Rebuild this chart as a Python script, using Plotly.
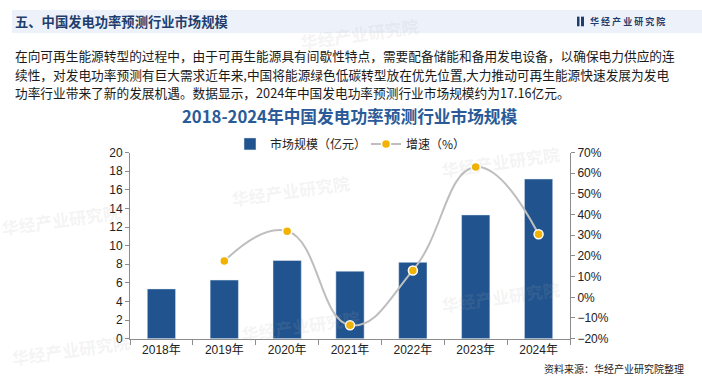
import plotly.graph_objects as go

W, H = 702, 390

years = ["2018年", "2019年", "2020年", "2021年", "2022年", "2023年", "2024年"]
market_size = [5.35, 6.3, 8.4, 7.25, 8.2, 13.3, 17.16]
growth_years = ["2019年", "2020年", "2021年", "2022年", "2023年", "2024年"]
growth_rate = [17.5, 32.0, -13.5, 13.0, 63.0, 30.5]

header = "五、中国发电功率预测行业市场规模"
para_lines = [
    "在向可再生能源转型的过程中，由于可再生能源具有间歇性特点，需要配备储能和备用发电设备，以确保电力供应的连",
    "续性，对发电功率预测有巨大需求近年来,中国将能源绿色低碳转型放在优先位置,大力推动可再生能源快速发展为发电",
    "功率行业带来了新的发展机遇。数据显示，2024年中国发电功率预测行业市场规模约为17.16亿元。",
]
chart_title = "2018-2024年中国发电功率预测行业市场规模"
source = "资料来源：华经产业研究院整理"

FONT = "Liberation Sans, Noto Sans CJK SC, sans-serif"
CJK = "Noto Sans CJK SC, sans-serif"


def px(x):
    return x / W


def py(y):
    return 1 - y / H


fig = go.Figure()
fig.add_trace(go.Bar(
    x=years, y=market_size, name="市场规模（亿元）",
    marker=dict(color="#21548F"), width=0.45, yaxis="y",
))
fig.add_trace(go.Scatter(
    x=growth_years, y=growth_rate, name="增速（%）", yaxis="y2",
    mode="lines+markers",
    line=dict(color="#BEBEBE", width=2, shape="spline", smoothing=1.3),
    marker=dict(color="#F2B200", size=9, line=dict(color="white", width=1.5)),
))

annotations = []
# faint watermarks
for (wx, wy) in [(290, 190), (500, 160), (300, 330), (60, 220), (70, 355), (360, 28), (500, 300)]:
    annotations.append(dict(text="<b>华经产业研究院</b>", x=px(wx), y=py(wy), xref="paper", yref="paper",
                            xanchor="center", yanchor="middle", showarrow=False, textangle=-8,
                            font=dict(family=CJK, size=17, color="rgba(170,170,170,0.15)")))
# header
annotations.append(dict(text="<b>" + header + "</b>", x=px(13), y=py(15), xref="paper", yref="paper",
                        xanchor="left", yanchor="middle", showarrow=False,
                        font=dict(family=CJK, size=13.3, color="#1F3E6E")))
annotations.append(dict(text="<b>华 经 产 业 研 究 院</b>", x=px(588), y=py(15), xref="paper", yref="paper",
                        xanchor="left", yanchor="middle", showarrow=False,
                        font=dict(family=CJK, size=9, color="#1F3E6E")))
for i, line in enumerate(para_lines):
    annotations.append(dict(text=line, x=px(13), y=py(50 + i * 19.5), xref="paper", yref="paper",
                            xanchor="left", yanchor="middle", showarrow=False,
                            font=dict(family=CJK, size=12.7, color="#1a1a1a")))
annotations.append(dict(text="<b>" + chart_title + "</b>", x=px(350), y=py(113), xref="paper", yref="paper",
                        xanchor="center", yanchor="middle", showarrow=False,
                        font=dict(family=CJK, size=16.7, color="#2A5B98")))
annotations.append(dict(text=source, x=px(686), y=py(375), xref="paper", yref="paper",
                        xanchor="right", yanchor="middle", showarrow=False,
                        font=dict(family=CJK, size=10, color="#222")))

shapes = [
    dict(type="rect", xref="paper", yref="paper", x0=px(12), x1=1, y0=py(27), y1=py(3),
         fillcolor="#EDF2FA", line=dict(width=0), layer="below"),
    dict(type="rect", xref="paper", yref="paper", x0=px(577), x1=px(579.5), y0=py(20), y1=py(10),
         fillcolor="#1F3E6E", line=dict(width=0)),
    dict(type="rect", xref="paper", yref="paper", x0=px(581), x1=px(584), y0=py(20), y1=py(10),
         fillcolor="#1F3E6E", line=dict(width=0)),
]

axis_common = dict(showline=True, linecolor="#8C8C8C", linewidth=1, ticks="outside",
                   tickcolor="#8C8C8C", ticklen=4, showgrid=False, zeroline=False,
                   tickfont=dict(family=FONT, size=12, color="#222"))

fig.update_layout(
    width=W, height=H, margin=dict(l=0, r=0, t=0, b=0),
    paper_bgcolor="white", plot_bgcolor="white",
    xaxis=dict(domain=[px(130), px(570)], type="category", showline=True, linecolor="#8C8C8C",
               ticks="outside", tickson="boundaries", tickcolor="#8C8C8C", ticklen=5,
               showgrid=False, tickfont=dict(family=FONT, size=12, color="#222")),
    yaxis=dict(domain=[1 - 344 / H, 1 - 151 / H], range=[0, 20], dtick=2, **axis_common),
    yaxis2=dict(overlaying="y", side="right", anchor="x", range=[-20, 70], dtick=10,
                ticksuffix="%", **axis_common),
    legend=dict(orientation="h", x=px(230), y=py(142), xanchor="left", yanchor="middle",
                font=dict(family=CJK, size=12, color="#222"), entrywidth=91,
                bgcolor="rgba(0,0,0,0)"),
    annotations=annotations, shapes=shapes, bargap=0.5,
)

fig.write_html("out.html", config={"displayModeBar": False},
               post_script="document.body.style.margin='0';document.body.style.overflow='hidden';")
